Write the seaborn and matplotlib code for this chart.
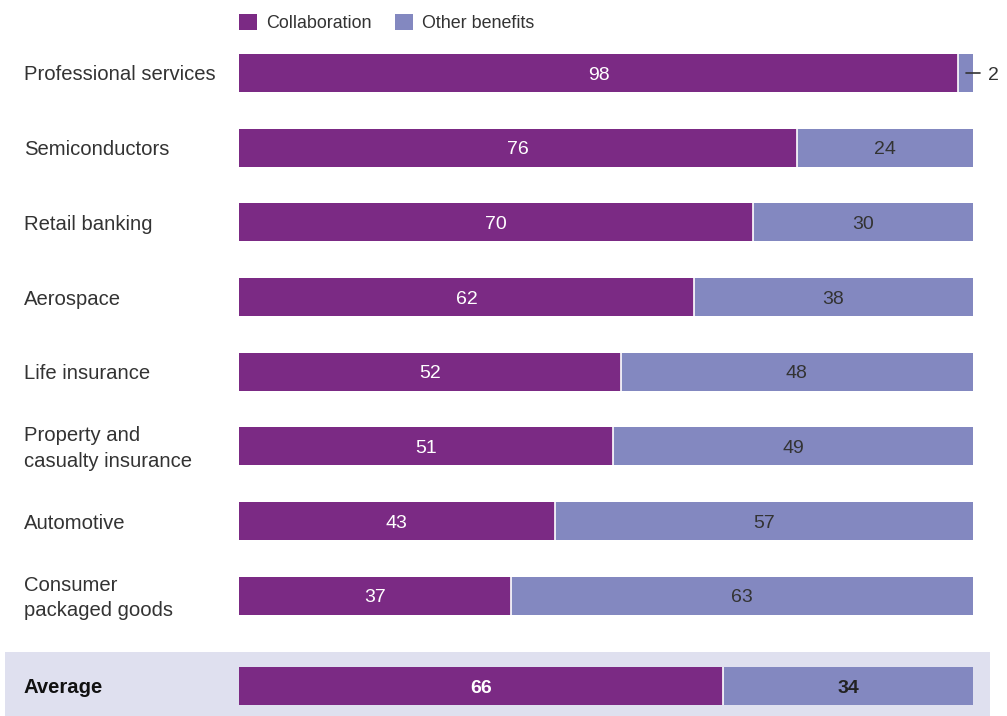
import matplotlib
matplotlib.use("Agg")
import matplotlib.pyplot as plt
import seaborn as sns
import pandas as pd
from matplotlib.patches import Patch, Rectangle

categories = ["Professional services", "Semiconductors", "Retail banking", "Aerospace",
              "Life insurance", "Property and\ncasualty insurance", "Automotive",
              "Consumer\npackaged goods", "Average"]
collaboration = [98, 76, 70, 62, 52, 51, 43, 37, 66]
other_benefits = [2, 24, 30, 38, 48, 49, 57, 63, 34]
row_pos = [0, 1, 2, 3, 4, 5, 6, 7, 8.206]

PURPLE = "#7B2A84"
LAV = "#8388C0"
BAND = "#DFE0EF"
TXT = "#333333"

sns.set_theme(style="white")
plt.rcParams["font.family"] = ["Liberation Sans", "DejaVu Sans"]

df = pd.DataFrame({"cat": categories, "collab": collaboration, "other": other_benefits,
                   "pos": row_pos})
df["total"] = df["collab"] + df["other"]

fig = plt.figure(figsize=(10.07, 7.16), dpi=100)
fig.patches.append(Rectangle((5 / 1007, 0), 985 / 1007, 64 / 716, transform=fig.transFigure,
                             facecolor=BAND, edgecolor="none", zorder=-10))
ax = fig.add_axes([239 / 1007, 0, 734 / 1007, 1])
ax.set_zorder(2)
ax.patch.set_alpha(0)

H = 0.509
sns.barplot(data=df, x="total", y="pos", orient="h", native_scale=True, color=LAV,
            width=H, saturation=1, linewidth=0, ax=ax)
sns.barplot(data=df, x="collab", y="pos", orient="h", native_scale=True, color=PURPLE,
            width=H, saturation=1, linewidth=0, ax=ax)
ax.vlines(df["collab"], df["pos"] - H / 2, df["pos"] + H / 2, color="white", linewidth=1.2)

ax.set_xlim(0, 100)
ax.set_ylim(8.608, -0.977)
ax.axis("off")

DY = 0.088
for i, r in df.iterrows():
    bold = r["cat"] == "Average"
    fw = "bold" if bold else "normal"
    ax.text(r["collab"] / 2, r["pos"] + DY, f"{r['collab']}", ha="center", va="baseline",
            color="white", fontsize=14, fontweight=fw)
    if r["other"] >= 5:
        ax.text(r["collab"] + r["other"] / 2, r["pos"] + DY, f"{r['other']}", ha="center",
                va="baseline", color="#222222" if bold else TXT, fontsize=14, fontweight=fw)
    else:
        ax.plot([99.1, 101.0], [r["pos"], r["pos"]], color=TXT, linewidth=1.2, clip_on=False)
        ax.text(102.1, r["pos"] + DY, f"{r['other']}", ha="left", va="baseline", color=TXT,
                fontsize=14, clip_on=False)
    fig.text(24 / 1007, 1 - (75 + 74.7 * r["pos"]) / 716, r["cat"], ha="left", va="center",
             color="#111111" if bold else TXT, fontsize=14.6, fontweight=fw,
             linespacing=1.45)

handles = [Patch(facecolor=PURPLE, edgecolor="none", label="Collaboration"),
           Patch(facecolor=LAV, edgecolor="none", label="Other benefits")]
fig.legend(handles=handles, loc="center left", bbox_to_anchor=(223 / 1007, 1 - 23 / 716),
           ncol=2, frameon=False, fontsize=12.9, handlelength=1.0, handleheight=1.0,
           handletextpad=0.5, columnspacing=1.3, labelcolor=TXT)

fig.savefig("out.png", dpi=100)
